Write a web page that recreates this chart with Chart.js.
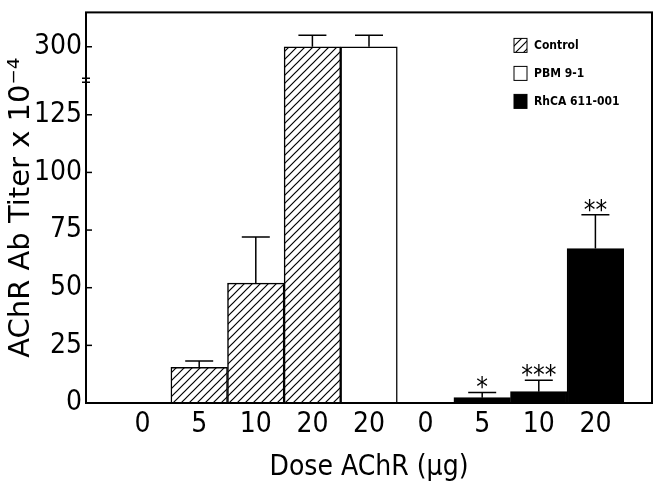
<!DOCTYPE html>
<html>
<head>
<meta charset="utf-8">
<script src="https://cdn.jsdelivr.net/npm/chart.js@4.4.0/dist/chart.umd.min.js"></script>
<style>
  html, body { margin: 0; padding: 0; background: #fff; }
</style>
</head>
<body>
<canvas id="doseChart" width="659" height="486"></canvas>
<script>
// dose groups along the x axis
const doses = ["0", "5", "10", "20", "20", "0", "5", "10", "20"];

// mean titers and SD (x 10^-4), null where the group is absent
const controlMeans = [0, 15.5, 52, 300, null, null, null, null, null];
const controlSD    = [0, 2.7, 20, 5, null, null, null, null, null];
const pbmMeans     = [null, null, null, null, 300, null, null, null, null];
const pbmSD        = [null, null, null, null, 5, null, null, null, null];
const rhcaMeans    = [null, null, null, null, null, 0, 2.3, 4.9, 67];
const rhcaSD       = [null, null, null, null, null, 0, 2.3, 5, 14.6];
const rhcaMarks    = ["", "", "", "", "", "", "*", "***", "**"];

const yTickValues = [0, 25, 50, 75, 100, 125, 300];

// broken y axis: everything above the break is shifted down
const BREAK_AT = 140;
const UPPER_SHIFT = 300 - 154.5;
const toAxis = v => (v == null ? null : (v > BREAK_AT ? v - UPPER_SHIFT : v));

const FONT = "'DejaVu Sans Condensed', 'DejaVu Sans', sans-serif";

function hatch() {
  const c = document.createElement("canvas");
  c.width = 8; c.height = 8;
  const g = c.getContext("2d");
  g.fillStyle = "#fff"; g.fillRect(0, 0, 8, 8);
  g.strokeStyle = "#000"; g.lineWidth = 1.2;
  g.beginPath();
  g.moveTo(0, 8); g.lineTo(8, 0);
  g.moveTo(-1, 1); g.lineTo(1, -1);
  g.moveTo(7, 9); g.lineTo(9, 7);
  g.stroke();
  return g.createPattern(c, "repeat");
}

// blank slot on each side of the dose groups
const pad = arr => [null, ...arr, null];

const bar = (label, means, sd, fill, marks) => ({
  label,
  data: pad(means.map(toAxis)),
  means: pad(means),
  sd: pad(sd),
  marks: marks ? pad(marks) : null,
  backgroundColor: fill,
  borderColor: "#000",
  borderWidth: 1.5,
  grouped: false,
  barPercentage: 1,
  categoryPercentage: 1
});

const decorations = {
  id: "decorations",
  afterDatasetsDraw(chart) {
    const { ctx, chartArea: a, scales: { y } } = chart;
    ctx.save();
    ctx.strokeStyle = "#000";
    ctx.fillStyle = "#000";

    // error bars + significance marks
    chart.data.datasets.forEach((ds, di) => {
      chart.getDatasetMeta(di).data.forEach((el, i) => {
        const m = ds.means[i];
        if (m == null || !ds.sd[i]) return;
        const top = y.getPixelForValue(toAxis(m + ds.sd[i]));
        ctx.lineWidth = 1.5;
        ctx.beginPath();
        ctx.moveTo(el.x, el.y);
        ctx.lineTo(el.x, top);
        ctx.moveTo(el.x - 14, top);
        ctx.lineTo(el.x + 14, top);
        ctx.stroke();
        if (ds.marks && ds.marks[i]) {
          ctx.font = "26px " + FONT;
          ctx.textAlign = "center";
          ctx.textBaseline = "alphabetic";
          ctx.fillText(ds.marks[i], el.x, top + 4);
        }
      });
    });

    // frame
    ctx.lineWidth = 2;
    ctx.strokeRect(a.left, a.top, a.right - a.left, a.bottom - a.top);

    // inner y ticks
    ctx.lineWidth = 1.5;
    y.ticks.forEach(t => {
      if (t.value === 0) return;
      const py = y.getPixelForValue(t.value);
      ctx.beginPath();
      ctx.moveTo(a.left, py);
      ctx.lineTo(a.left + 6, py);
      ctx.stroke();
    });

    // axis break mark
    const pb = y.getPixelForValue(BREAK_AT);
    ctx.beginPath();
    ctx.moveTo(a.left - 4, pb - 2); ctx.lineTo(a.left + 4, pb - 2);
    ctx.moveTo(a.left - 4, pb + 2); ctx.lineTo(a.left + 4, pb + 2);
    ctx.stroke();

    // legend
    ctx.font = "bold 12px " + FONT;
    ctx.textAlign = "left";
    ctx.textBaseline = "middle";
    chart.data.datasets.forEach((ds, di) => {
      const lx = a.right - 138;
      const ly = a.top + 33 + di * 28;
      ctx.fillStyle = ds.backgroundColor;
      ctx.fillRect(lx, ly - 7, 13, 14);
      ctx.lineWidth = 1;
      ctx.strokeRect(lx, ly - 7, 13, 14);
      ctx.fillStyle = "#000";
      ctx.fillText(ds.label, lx + 20, ly);
    });
    ctx.restore();
  }
};

const datasets = [
  bar("Control", controlMeans, controlSD, hatch(), null),
  bar("PBM 9-1", pbmMeans, pbmSD, "#fff", null),
  bar("RhCA 611-001", rhcaMeans, rhcaSD, "#000", rhcaMarks)
];

new Chart(document.getElementById("doseChart"), {
  type: "bar",
  data: { labels: pad(doses).map(d => d || ""), datasets },
  options: {
    responsive: false,
    animation: false,
    layout: { padding: { top: 8, right: 7, left: 0, bottom: 0 } },
    plugins: { legend: { display: false }, tooltip: { enabled: false } },
    scales: {
      x: {
        type: "category",
        offset: false,
        grid: { display: false, drawTicks: false },
        border: { display: false },
        ticks: { color: "#000", font: { family: FONT, size: 28 }, padding: 5, autoSkip: false, maxRotation: 0 },
        title: { display: true, text: "Dose AChR (\u03bcg)", color: "#000", font: { family: FONT, size: 28 }, padding: { top: 0, bottom: 1 } },
        afterFit(s) { s.height = 83; }
      },
      y: {
        min: 0,
        max: 169.4,
        grid: { display: false, drawTicks: false },
        border: { display: false },
        afterBuildTicks(s) { s.ticks = yTickValues.map(v => ({ value: toAxis(v) })); },
        ticks: { color: "#000", font: { family: FONT, size: 28, lineHeight: 0.6 }, padding: 4, callback: (v, i) => String(yTickValues[i]) },
        title: { display: true, text: "AChR Ab Titer x 10\u207b\u2074", color: "#000", font: { family: "'DejaVu Sans', sans-serif", size: 29 }, padding: { top: 4, bottom: 0 } },
        afterFit(s) { s.width = 86; }
      }
    }
  },
  plugins: [decorations]
});
</script>
</body>
</html>
